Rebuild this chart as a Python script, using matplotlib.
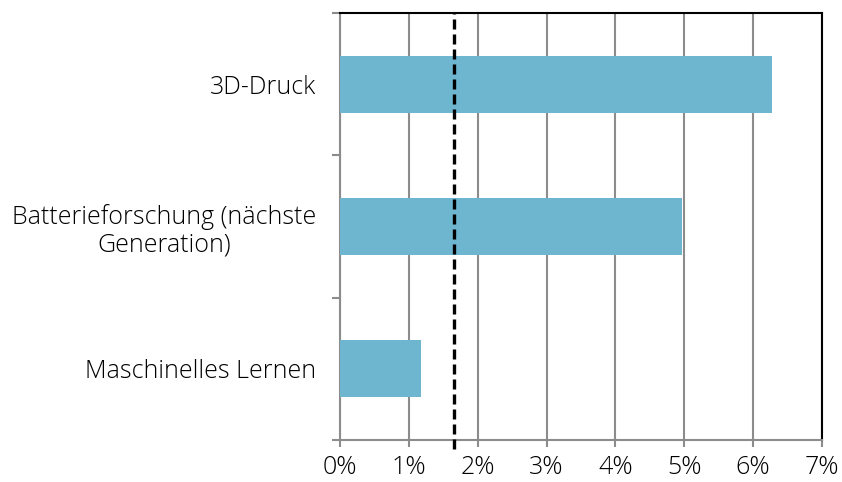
import matplotlib
matplotlib.use("Agg")
import matplotlib.pyplot as plt
from matplotlib import font_manager

categories = ["Maschinelles Lernen", "Batterieforschung (nächste\nGeneration)", "3D-Druck"]
values = [1.18, 4.97, 6.27]
reference_value = 1.66
xticks = [0, 1, 2, 3, 4, 5, 6, 7]
xtick_labels = ["0%", "1%", "2%", "3%", "4%", "5%", "6%", "7%"]

plt.rcParams['font.family'] = ['Open Sans', 'DejaVu Sans']
light_available = any(f.name == 'Open Sans' and f.weight in (300, 'light')
                      for f in font_manager.fontManager.ttflist)
weight = 'light' if light_available else 'normal'
grey = "#8c8c8c"
txt = "#000000"

fig = plt.figure(figsize=(8.42, 4.82), dpi=100)
ax = fig.add_axes([340/842, 1-440/482, (822-340)/842, (440-13)/482])

ypos = list(range(len(categories)))
ax.barh(ypos, values, height=0.4, color="#6eb6cf", zorder=3)
ax.set_ylim(-0.5, 2.5)
ax.set_xlim(0, 7)

ax.set_xticks(xticks)
ax.set_xticklabels(xtick_labels, fontsize=18, color=txt, fontweight=weight)
ax.set_yticks(ypos)
ax.set_yticklabels(categories, fontsize=18, color=txt, ha="right",
                   multialignment="center", fontweight=weight, linespacing=1.15)
ax.set_yticks([-0.5, 0.5, 1.5, 2.5], minor=True)
ax.tick_params(axis="y", which="major", length=0, pad=17)
ax.tick_params(axis="y", which="minor", length=6, width=1.5, color=grey, direction="out")
ax.tick_params(axis="x", which="major", length=5, width=1.5, color=grey, direction="out", pad=6)

ax.grid(axis="x", color=grey, linewidth=1.5, zorder=1)
ax.set_axisbelow(True)

for side in ["left", "bottom"]:
    ax.spines[side].set_color(grey)
    ax.spines[side].set_linewidth(1.5)
for side in ["top", "right"]:
    ax.spines[side].set_color("black")
    ax.spines[side].set_linewidth(1.5)

ax.axvline(reference_value, ymin=-0.022, ymax=1, color="black", linewidth=2.4,
           dashes=(3.0, 1.5), zorder=5, clip_on=False)

fig.savefig("out.png", dpi=100)
